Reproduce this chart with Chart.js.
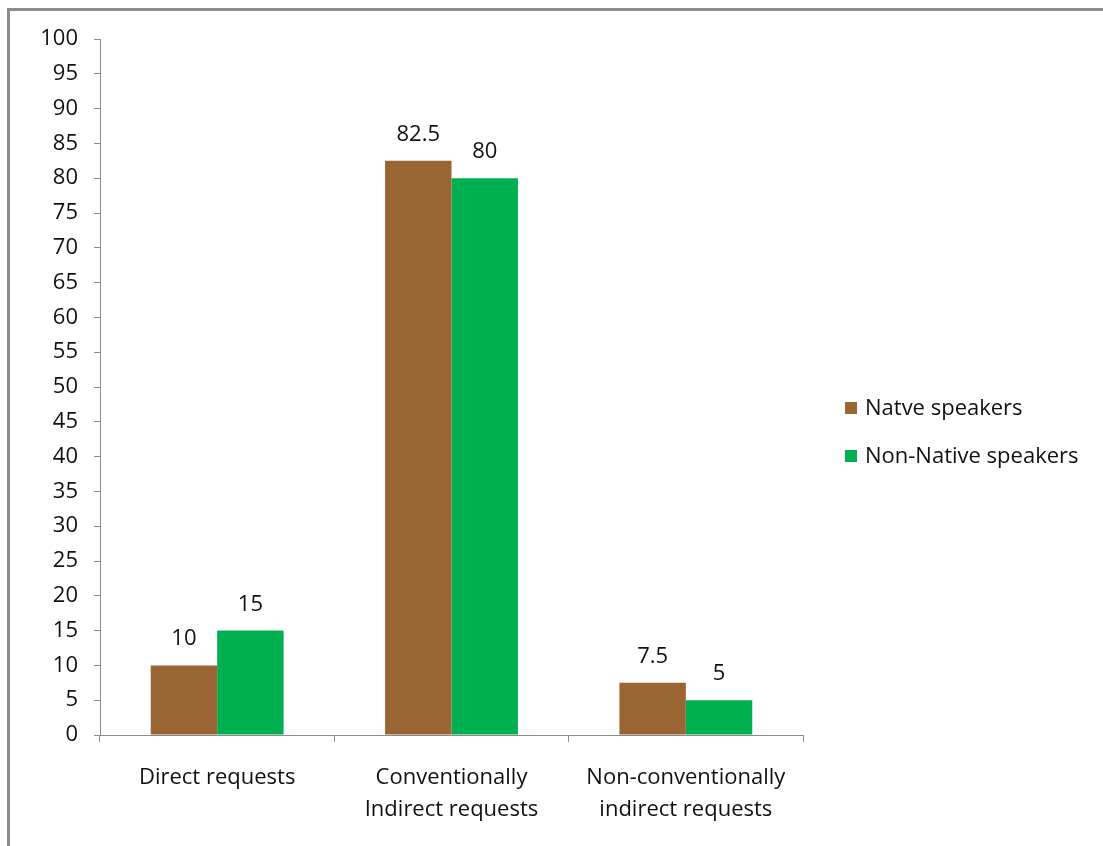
<!DOCTYPE html>
<html>
<head>
<meta charset="utf-8">
<script src="https://cdn.jsdelivr.net/npm/chart.js@4.4.1/dist/chart.umd.min.js"></script>
<style>
  html, body { margin: 0; padding: 0; background: #fff; overflow: hidden; }
  .wrap { position: relative; width: 1103px; height: 846px; }
  .frame {
    position: absolute; left: 7px; top: 8px; width: 1200px; height: 900px;
    border-top: 3px solid #8c8c8c; border-left: 3px solid #8c8c8c;
  }
  canvas { position: absolute; left: 0; top: 0; }
  .legend {
    position: absolute; left: 845px; top: 391px;
    font-family: "Open Sans", Lato, sans-serif; font-size: 22px; color: #111;
  }
  .legend div { height: 48px; display: flex; align-items: flex-start; white-space: nowrap; }
  .legend span.box { width: 12px; height: 12px; margin: 11px 8px 0 0; display: inline-block; }
</style>
</head>
<body>
<div class="wrap">
  <div class="frame"></div>
  <canvas id="chart" width="1103" height="846"></canvas>
  <div class="legend" id="legend"></div>
</div>
<script>
const categories = [
  'Direct requests',
  ['Conventionally', 'Indirect requests'],
  ['Non-conventionally', 'indirect requests']
]
const seriesNames = ['Natve speakers', 'Non-Native speakers']
const nativeValues = [10, 82.5, 7.5]
const nonNativeValues = [15, 80, 5]
const colors = ['#996633', '#00B050']

const FONT = '"Open Sans", Lato, sans-serif'

// numbers above each bar
const valueLabels = {
  id: 'valueLabels',
  afterDatasetsDraw(chart) {
    const ctx = chart.ctx
    ctx.save()
    ctx.font = '22px ' + FONT
    ctx.fillStyle = '#111'
    ctx.textAlign = 'center'
    ctx.textBaseline = 'alphabetic'
    chart.data.datasets.forEach((ds, i) => {
      chart.getDatasetMeta(i).data.forEach((bar, j) => {
        ctx.fillText(String(ds.data[j]), bar.x, bar.y - 20)
      })
    })
    ctx.restore()
  }
}

const ctx = document.getElementById('chart').getContext('2d')
new Chart(ctx, {
  type: 'bar',
  data: {
    labels: categories,
    datasets: [
      { label: seriesNames[0], data: nativeValues, backgroundColor: colors[0] },
      { label: seriesNames[1], data: nonNativeValues, backgroundColor: colors[1] }
    ]
  },
  options: {
    responsive: false,
    animation: false,
    layout: { padding: { left: 0, top: 39, right: 300, bottom: 0 } },
    datasets: { bar: { categoryPercentage: 0.567, barPercentage: 1.0 } },
    scales: {
      x: {
        offset: true,
        grid: {
          offset: true,
          drawOnChartArea: false,
          drawTicks: true,
          tickLength: 7,
          color: '#8c8c8c'
        },
        border: { color: '#8c8c8c', width: 1 },
        ticks: {
          color: '#111',
          font: { family: FONT, size: 22, lineHeight: 1.45 },
          padding: 20,
          maxRotation: 0,
          autoSkip: false
        },
        afterFit(scale) { scale.height = 846 - 735 }
      },
      y: {
        min: 0,
        max: 100,
        grid: {
          drawOnChartArea: false,
          drawTicks: true,
          tickLength: 6,
          color: '#8c8c8c'
        },
        border: { color: '#8c8c8c', width: 1 },
        ticks: {
          stepSize: 5,
          color: '#111',
          font: { family: FONT, size: 22 },
          padding: 16
        },
        afterFit(scale) { scale.width = 100 }
      }
    },
    plugins: {
      legend: { display: false },
      tooltip: { enabled: false }
    }
  },
  plugins: [valueLabels]
})

// legend beside the plot
const legend = document.getElementById('legend')
seriesNames.forEach((name, i) => {
  const row = document.createElement('div')
  const box = document.createElement('span')
  box.className = 'box'
  box.style.background = colors[i]
  row.appendChild(box)
  row.appendChild(document.createTextNode(name))
  legend.appendChild(row)
})
</script>
</body>
</html>
